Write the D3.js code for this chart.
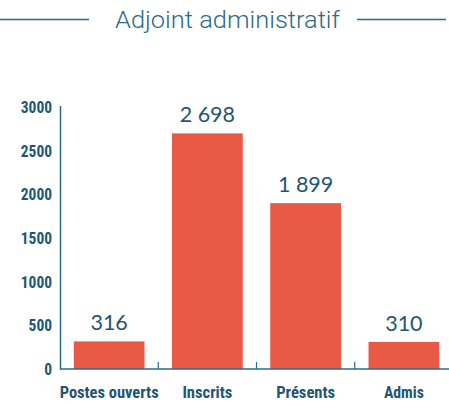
<!DOCTYPE html>
<html><head><meta charset="utf-8">
<script src="https://cdn.jsdelivr.net/npm/d3@7"></script>
<style>body{margin:0;background:#fff}svg{display:block}</style>
</head><body>
<script>
const title = "Adjoint administratif";
const categories = ["Postes ouverts", "Inscrits", "Présents", "Admis"];
const values = [316, 2698, 1899, 310];
const valueLabels = ["316", "2 698", "1 899", "310"];
const yTicks = [0, 500, 1000, 1500, 2000, 2500, 3000];

const W = 449, H = 404;
const dark = "#1f5673", axisCol = "#2c6a86", barCol = "#e85a46";
const condFont = "'Roboto Condensed', 'Liberation Sans Narrow', Roboto, sans-serif";
const svg = d3.select("body").append("svg").attr("width", W).attr("height", H);

// title
svg.append("text").attr("x", 227.5).attr("y", 28).attr("text-anchor", "middle")
  .attr("font-family", "Roboto").attr("font-weight", 300).attr("font-size", 24)
  .attr("textLength", 225).attr("lengthAdjust", "spacingAndGlyphs")
  .attr("fill", axisCol).text(title);
svg.append("line").attr("x1", 0).attr("x2", 89).attr("y1", 19.5).attr("y2", 19.5)
  .attr("stroke", axisCol).attr("stroke-width", 1.5);
svg.append("line").attr("x1", 357).attr("x2", 446).attr("y1", 19.5).attr("y2", 19.5)
  .attr("stroke", axisCol).attr("stroke-width", 1.5);

const x = d3.scaleBand().domain(categories).range([60, 453]).paddingInner(0.28).paddingOuter(0.14);
const y = d3.scaleLinear().domain([0, 3000]).range([369, 107]);

// bars
svg.selectAll("rect.bar").data(values).join("rect").attr("class", "bar")
  .attr("x", (d, i) => x(categories[i])).attr("width", x.bandwidth())
  .attr("y", d => y(d)).attr("height", d => y(0) - y(d)).attr("fill", barCol);

// value labels
svg.selectAll("text.val").data(values).join("text").attr("class", "val")
  .attr("x", (d, i) => x(categories[i]) + x.bandwidth() / 2)
  .attr("y", d => y(d) - 11).attr("text-anchor", "middle")
  .attr("font-family", "Lato").attr("font-size", 21.5).attr("fill", dark)
  .text((d, i) => valueLabels[i]);

// y axis
svg.append("line").attr("x1", 60.5).attr("x2", 60.5).attr("y1", 106).attr("y2", 369.5)
  .attr("stroke", axisCol).attr("stroke-width", 1.5);
svg.selectAll("text.yt").data(yTicks).join("text").attr("class", "yt")
  .attr("x", 52).attr("y", d => y(d)).attr("dy", "0.36em").attr("text-anchor", "end")
  .attr("font-family", condFont)
  .attr("font-weight", "bold").attr("font-size", 16.5).attr("fill", dark)
  .attr("textLength", d => String(d).length * 7.8).attr("lengthAdjust", "spacingAndGlyphs")
  .text(d => d);

// x axis
svg.append("line").attr("x1", 60).attr("x2", 449).attr("y1", 369).attr("y2", 369)
  .attr("stroke", axisCol).attr("stroke-width", 1.5);
const step = x.step();
svg.selectAll("line.xt").data(categories.slice(1)).join("line").attr("class", "xt")
  .attr("x1", d => x(d) - step * 0.14).attr("x2", d => x(d) - step * 0.14)
  .attr("y1", 362).attr("y2", 369).attr("stroke", axisCol).attr("stroke-width", 1.2);
const labelW = [99, 50, 59, 40];
svg.selectAll("text.xl").data(categories).join("text").attr("class", "xl")
  .attr("x", d => x(d) + x.bandwidth() / 2).attr("y", 397.5).attr("text-anchor", "middle")
  .attr("font-family", condFont)
  .attr("font-weight", "bold").attr("font-size", 17).attr("fill", dark)
  .attr("textLength", (d, i) => labelW[i]).attr("lengthAdjust", "spacingAndGlyphs")
  .text(d => d);
</script>
</body></html>
